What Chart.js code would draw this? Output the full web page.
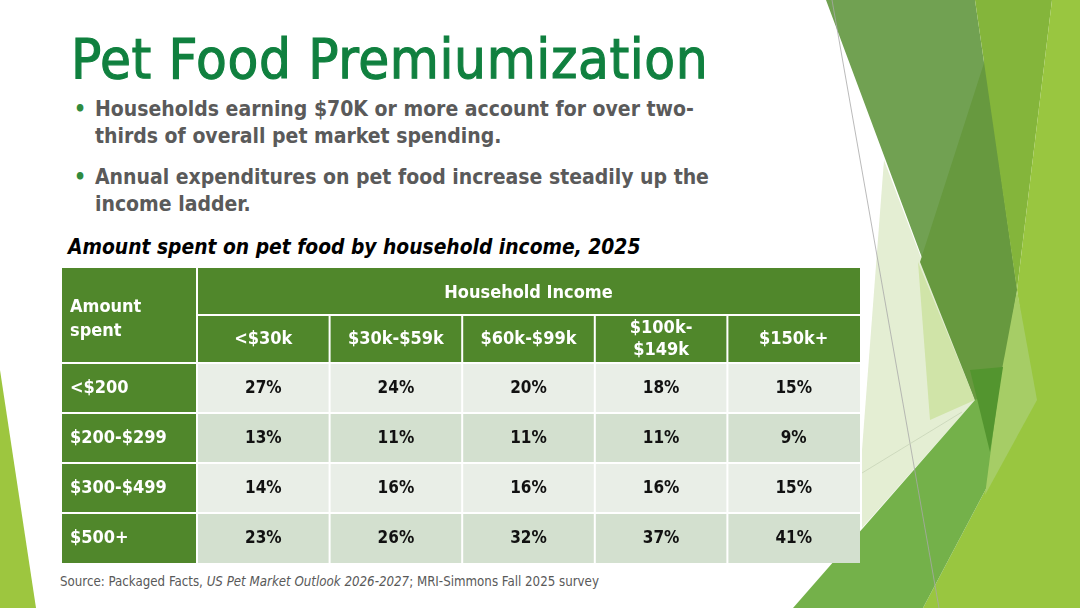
<!DOCTYPE html>
<html>
<head>
<meta charset="utf-8">
<title>Pet Food Premiumization</title>
<script src="https://cdn.jsdelivr.net/npm/chart.js@4.4.1/dist/chart.umd.min.js"></script>
<style>
    html, body { margin: 0; padding: 0; }
    body {
        width: 1080px; height: 608px; position: relative; overflow: hidden; background: #fff;
        font-family: 'DejaVu Sans Condensed', 'DejaVu Sans', sans-serif;
    }
    #deco { position: absolute; left: 0; top: 0; }
    h1 {
        position: absolute; left: 71px; top: 31px; margin: 0;
        font-size: 56px; line-height: 56px; font-weight: normal; color: #10803f; white-space: nowrap;
        letter-spacing: 0.6px; -webkit-text-stroke: 1.1px #10803f;
    }
    .bullet {
        position: absolute; left: 95px; font-size: 21px; line-height: 27px;
        font-weight: bold; color: #5a5a5a; white-space: nowrap;
    }
    .bullet::before { content: "\2022"; position: absolute; left: -21px; color: #2f8b3f; }
    .subtitle {
        position: absolute; left: 68px; top: 234px; font-size: 20.8px; line-height: 27px;
        font-weight: bold; font-style: italic; color: #000; white-space: nowrap;
    }
    #tablaBox { position: absolute; left: 62px; top: 268px; width: 798px; height: 295px; }
    .source {
        position: absolute; left: 60px; top: 574px; font-size: 13.2px; line-height: 16px;
        color: #595959; white-space: nowrap;
    }
</style>
</head>
<body>
<svg id="deco" width="1080" height="608" viewBox="0 0 1080 608">
    <polygon points="0,370 36,608 0,608" fill="#9dc63f"/>
    <polygon points="884,160 975,400 862,528 862,450" fill="#e4eed3"/>
    <polygon points="918,262 975,400 930,420" fill="#d0e4a8"/>
    <polygon points="826,0 975,0 1017,290 990,452 975,400" fill="#71a152"/>
    <polygon points="920,262 985,60 1017,290 990,452 975,400" fill="#67993f"/>
    <polygon points="975,0 1052,0 1017,290" fill="#84b53b"/>
    <polygon points="1052,0 1080,0 1080,608 923,608 1033,400 1017,290" fill="#99c640"/>
    <polygon points="793,608 975,400 1000,385 1033,400 923,608" fill="#74b14a"/>
    <polygon points="1017,290 1037,400 985,495 1000,380" fill="#a6cd66"/>
    <polygon points="970,370 1003,367 990,452" fill="#53952f"/>
    <line x1="832" y1="0" x2="939" y2="608" stroke="#a8a8a8" stroke-width="0.8"/>
    <line x1="862" y1="473" x2="962" y2="412" stroke="#c8d4b8" stroke-width="0.8"/>
</svg>

<h1>Pet Food Premiumization</h1>
<div class="bullet" style="top:96px">Households earning $70K or more account for over two-<br>thirds of overall pet market spending.</div>
<div class="bullet" style="top:164px">Annual expenditures on pet food increase steadily up the<br>income ladder.</div>
<div class="subtitle">Amount spent on pet food by household income, 2025</div>

<div id="tablaBox"><canvas id="tablaCanvas"></canvas></div>

<div class="source">Source: Packaged Facts, <i>US Pet Market Outlook 2026-2027</i>; MRI-Simmons Fall 2025 survey</div>

<script>
// datos de la tabla
const incomeGroups = ["<$30k", "$30k-$59k", "$60k-$99k", "$100k-$149k", "$150k+"];
const incomeTickLabels = [["<$30k"], ["$30k-$59k"], ["$60k-$99k"], ["$100k-", "$149k"], ["$150k+"]];
const spendBands = ["<$200", "$200-$299", "$300-$499", "$500+"];
const shareUnder200 = [27, 24, 20, 18, 15];
const share200to299 = [13, 11, 11, 11, 9];
const share300to499 = [14, 16, 16, 16, 15];
const share500plus = [23, 26, 32, 37, 41];
const bandShares = [shareUnder200, share200to299, share300to499, share500plus];

const VERDE = "#50872b";
const FILA_CLARA = "#e9eee7";
const FILA_OSCURA = "#d3e0cf";
const fuente = "'DejaVu Sans Condensed', 'DejaVu Sans', sans-serif";

// dibuja fondos, lineas y valores de cada celda
const pluginTabla = {
    id: "tabla",
    beforeDraw(chart) {
        const { ctx, chartArea: area, scales } = chart;
        const xs = scales.x, ys = scales.y;
        const cw = xs.width / incomeGroups.length;
        const rh = ys.height / spendBands.length;

        ctx.save();
        ctx.fillStyle = "#ffffff";
        ctx.fillRect(0, 0, chart.width, chart.height);
        ctx.fillStyle = VERDE;
        ctx.fillRect(0, 0, chart.width, area.top);
        ctx.fillRect(0, 0, area.left, chart.height);

        chart.data.datasets.forEach((ds, r) => {
            const meta = chart.getDatasetMeta(r);
            ctx.fillStyle = r % 2 === 0 ? FILA_CLARA : FILA_OSCURA;
            meta.data.forEach(pt => ctx.fillRect(pt.x - cw / 2, pt.y - rh / 2, cw, rh));
        });

        ctx.strokeStyle = "#ffffff";
        ctx.lineWidth = 2;
        ctx.beginPath();
        const corte = area.top - 48;
        ctx.moveTo(area.left, 0); ctx.lineTo(area.left, chart.height);
        ctx.moveTo(area.left, corte); ctx.lineTo(chart.width, corte);
        for (let c = 1; c < incomeGroups.length; c++) {
            const x = xs.getPixelForValue(c) - cw / 2;
            ctx.moveTo(x, corte); ctx.lineTo(x, area.bottom);
        }
        for (let r = 0; r < spendBands.length; r++) {
            const y = ys.getPixelForValue(r) - rh / 2;
            ctx.moveTo(0, y); ctx.lineTo(chart.width, y);
        }
        ctx.stroke();

        ctx.fillStyle = "#ffffff";
        ctx.font = "bold 18px " + fuente;
        ctx.textAlign = "left";
        ctx.textBaseline = "middle";
        ctx.fillText("Amount", ys.left, 39);
        ctx.fillText("spent", ys.left, 63);
        ctx.restore();
    },
    afterDatasetsDraw(chart) {
        const ctx = chart.ctx;
        ctx.save();
        ctx.fillStyle = "#111111";
        ctx.font = "bold 17px " + fuente;
        ctx.textAlign = "center";
        ctx.textBaseline = "middle";
        chart.data.datasets.forEach((ds, r) => {
            chart.getDatasetMeta(r).data.forEach((pt, c) => {
                ctx.fillText(ds.data[c].v + "%", pt.x, pt.y + 1);
            });
        });
        ctx.restore();
    }
};

const ctxTabla = document.getElementById("tablaCanvas").getContext("2d");
new Chart(ctxTabla, {
    type: "scatter",
    data: {
        datasets: spendBands.map((band, r) => ({
            label: band,
            data: incomeGroups.map((g, c) => ({ x: g, y: band, v: bandShares[r][c] })),
            pointRadius: 0,
            pointHoverRadius: 0
        }))
    },
    options: {
        responsive: true,
        maintainAspectRatio: false,
        animation: false,
        events: [],
        layout: { padding: { left: 8, top: 0, right: 0, bottom: 0 } },
        plugins: {
            legend: { display: false },
            tooltip: { enabled: false }
        },
        scales: {
            x: {
                type: "category",
                labels: incomeGroups,
                position: "top",
                offset: true,
                grid: { display: false, drawTicks: false },
                border: { display: false },
                ticks: {
                    color: "#ffffff",
                    font: { family: fuente, size: 18, weight: "bold" },
                    crossAlign: "center",
                    padding: 13,
                    maxRotation: 0,
                    autoSkip: false,
                    callback: (val, i) => incomeTickLabels[i]
                },
                title: {
                    display: true,
                    text: "Household Income",
                    color: "#ffffff",
                    font: { family: fuente, size: 18, weight: "bold" },
                    padding: { top: 15, bottom: 0 }
                },
                afterFit: scale => {
                    scale.height = 95;
                    scale.paddingLeft = 0;
                    scale.paddingRight = 0;
                }
            },
            y: {
                type: "category",
                labels: spendBands,
                offset: true,
                grid: { display: false, drawTicks: false },
                border: { display: false },
                ticks: {
                    color: "#ffffff",
                    font: { family: fuente, size: 18, weight: "bold" },
                    crossAlign: "far",
                    padding: 0
                },
                afterFit: scale => {
                    scale.width = 127;
                    scale.paddingTop = 0;
                    scale.paddingBottom = 0;
                }
            }
        }
    },
    plugins: [pluginTabla]
});
</script>
</body>
</html>
